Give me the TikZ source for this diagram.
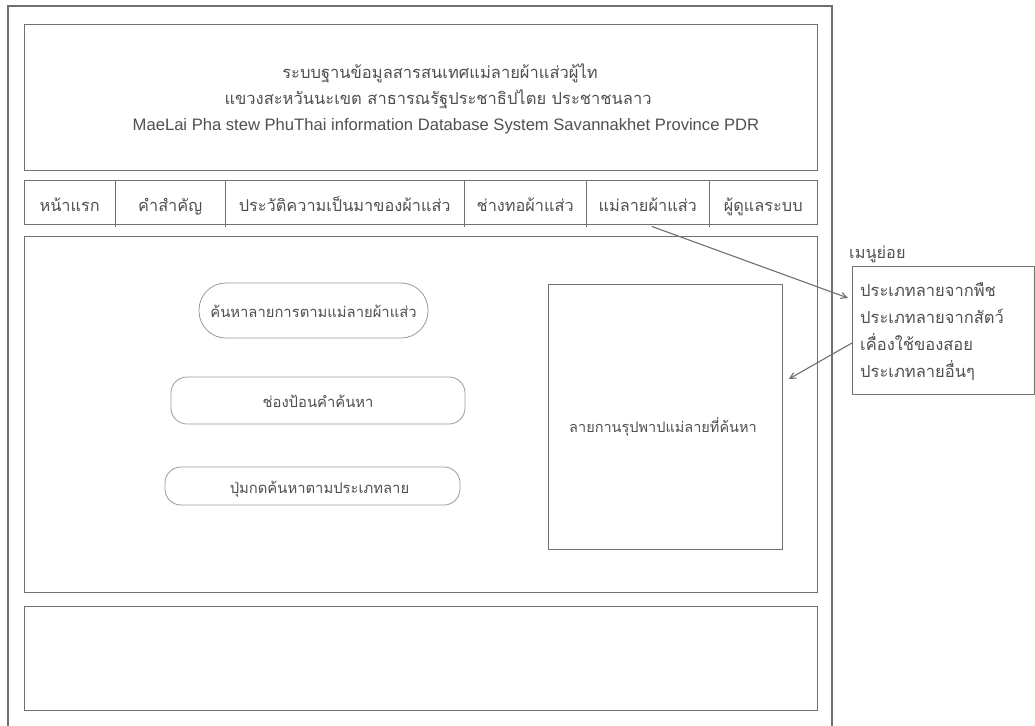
\documentclass[tikz,border=0pt]{standalone}
\usepackage{fontspec}
\setmainfont{Liberation Sans}
\newfontfamily\thai[Script=Thai]{Loma}
\usetikzlibrary{arrows.meta,calc}
\definecolor{ln}{HTML}{707070}
\definecolor{tx}{HTML}{505050}
\begin{document}
\begin{tikzpicture}[x=1pt,y=-1pt,
  frame/.style={draw=ln,line width=1.8pt},
  box/.style={draw=ln,line width=1.4pt,anchor=north west,inner sep=0pt},
  thinbox/.style={draw=ln,line width=0.8pt,anchor=north west,inner sep=0pt},
  btn/.style={draw=ln!70,line width=0.8pt,inner sep=0pt,text=tx,text height=14pt,text depth=0pt,font=\thai\fontsize{14.8}{16}\selectfont},
  cell/.style={anchor=north west,inner sep=0pt,minimum height=44,text height=18pt,text depth=0pt,text=tx,font=\thai\fontsize{16.3}{18}\selectfont},
  divider/.style={draw=ln,line width=0.8pt},
  arr/.style={draw=ln,line width=1.1pt,-{Straight Barb[length=6pt,width=6pt]}},
  lbl/.style={text=tx,inner sep=0pt,text height=11pt,text depth=4pt}
]
\useasboundingbox (0,0) rectangle (1035,725);
\fill[white] (0,0) rectangle (1035,725);
% outer frame
\draw[frame] (8,726) -- (8,6) -- (832,6) -- (832,726);
% header
\node[box,minimum width=793,minimum height=146] (header) at (24,24) {};
\node[lbl,font=\thai\fontsize{16.5}{18}\selectfont] (h1) at (440,75) {ระบบฐานข้อมูลสารสนเทศแม่ลายผ้าแส่วผู้ไท};
\node[lbl,font=\thai\fontsize{16.5}{18}\selectfont] (h2) at (438,101) {แขวงสะหวันนะเขต สาธารณรัฐประชาธิปไตย ประชาชนลาว};
\node[lbl,font=\fontsize{16.6}{18}\selectfont] (h3) at (446,127) {MaeLai Pha stew PhuThai information Database System Savannakhet Province PDR};
% menu bar
\node[box,minimum width=793,minimum height=44] (menu) at (24,180) {};
\node[cell,minimum width=91] (m1) at (24,180) {หน้าแรก};
\node[cell,minimum width=110] (m2) at (115,180) {คำสำคัญ};
\node[cell,minimum width=239] (m3) at (225,180) {ประวัติความเป็นมาของผ้าแส่ว};
\node[cell,minimum width=122] (m4) at (464,180) {ช่างทอผ้าแส่ว};
\node[cell,minimum width=123] (m5) at (586,180) {แม่ลายผ้าแส่ว};
\node[cell,minimum width=108] (m6) at (709,180) {ผู้ดูแลระบบ};
\foreach \a/\b in {m1/m2,m2/m3,m3/m4,m4/m5,m5/m6}
  \draw[divider] (\a.north east) -- ([yshift=-3pt]\a.south east);
% content
\node[box,minimum width=793,minimum height=356] (content) at (24,236) {};
\node[btn,rounded corners=27pt,minimum width=229,minimum height=55] (b1) at (313.5,310.5) {ค้นหาลายการตามแม่ลายผ้าแส่ว};
\node[btn,rounded corners=16pt,minimum width=294,minimum height=47] (b2) at (318,400.5) {ช่องป้อนคำค้นหา};
\node[btn,rounded corners=16pt,minimum width=295,minimum height=38] (b3) at (312.5,486) {\hspace*{14pt}ปุ่มกดค้นหาตามประเภทลาย};
\node[thinbox,minimum width=234,minimum height=265] (img) at (548,284) {};
\node[lbl,font=\thai\fontsize{14.5}{16}\selectfont] (imgt) at (663,429) {ลายกานรุปพาปแม่ลายที่ค้นหา};
% footer
\node[box,minimum width=793,minimum height=104] (footer) at (24,606) {};
% submenu
\node[lbl,anchor=west,font=\thai\fontsize{16.3}{18}\selectfont] (subl) at (849,255) {เมนูย่อย};
\node[box,minimum width=182,minimum height=128] (sub) at (852,266) {};
\node[lbl,anchor=west,font=\thai\fontsize{16.5}{18}\selectfont] (s1) at (860,293) {ประเภทลายจากพืช};
\node[lbl,anchor=west,font=\thai\fontsize{16.5}{18}\selectfont] (s2) at (860,320) {ประเภทลายจากสัตว์};
\node[lbl,anchor=west,font=\thai\fontsize{16.5}{18}\selectfont] (s3) at (860,347) {เคื่องใช้ของสอย};
\node[lbl,anchor=west,font=\thai\fontsize{16.5}{18}\selectfont] (s4) at (860,374) {ประเภทลายอื่นๆ};
% arrows
\draw[arr] ([xshift=4pt,yshift=-2pt]m5.south) -- ([xshift=-4pt,yshift=-32pt]sub.north west);
\draw[arr] ([yshift=-77pt]sub.north west) -- ([xshift=6pt,yshift=-95pt]img.north east);
\end{tikzpicture}
\end{document}
